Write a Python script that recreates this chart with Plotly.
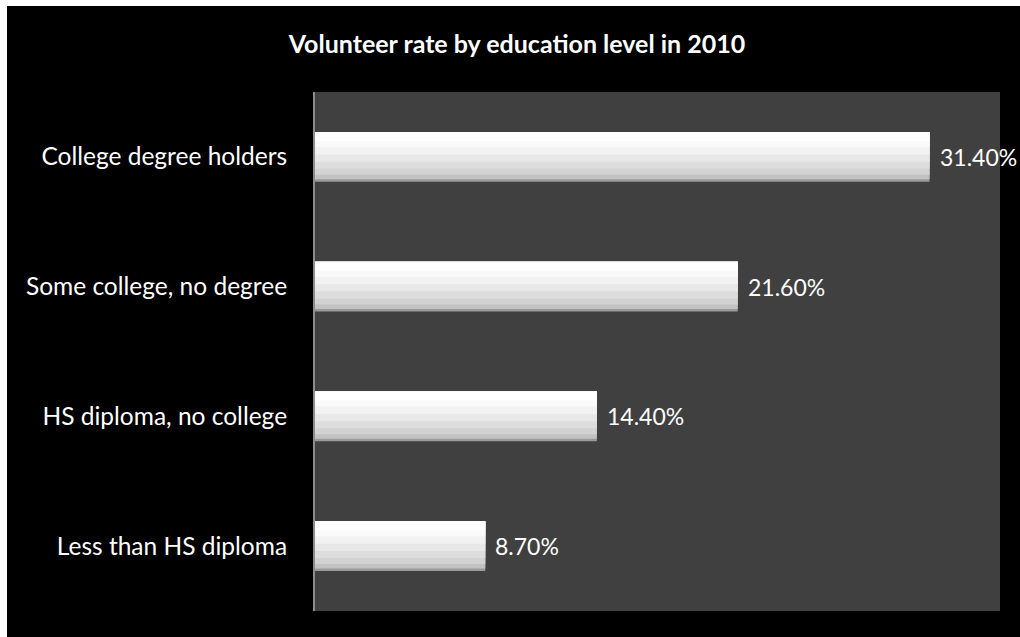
import plotly.graph_objects as go

categories = ["Less than HS diploma", "HS diploma, no college",
              "Some college, no degree", "College degree holders"]
rates = [8.7, 14.4, 21.6, 31.4]
value_labels = ["8.70%", "14.40%", "21.60%", "31.40%"]
title_text = "Volunteer rate by education level in 2010"

FONT = "Lato, 'Liberation Sans', Arial, sans-serif"
BW = 0.385  # bar thickness in category units

# (start fraction from bar bottom, colour) — vertical shading of each bar
SHADES = [(0.00, "#9a9a9a"), (0.05, "#c2c2c2"), (0.14, "#d2d2d2"),
          (0.26, "#dddddd"), (0.40, "#e8e8e8"), (0.55, "#f2f2f2"),
          (0.70, "#fafafa"), (0.82, "#ffffff")]

fig = go.Figure()
for frac, col in SHADES:
    fig.add_trace(go.Bar(
        y=categories, x=rates, orientation="h",
        width=BW * (1 - frac), offset=-BW / 2 + BW * frac,
        marker=dict(color=col, line=dict(width=0)),
        hoverinfo="skip", showlegend=False))

for cat, v, lab in zip(categories, rates, value_labels):
    fig.add_annotation(x=v, y=cat, text=lab, showarrow=False,
                       xanchor="left", yanchor="middle", xshift=8,
                       font=dict(family=FONT, size=23, color="white"))

fig.update_layout(
    width=1020, height=637,
    barmode="overlay",
    paper_bgcolor="black",
    plot_bgcolor="#404040",
    margin=dict(l=315, r=20, t=92, b=26),
    title=dict(text="<b>" + title_text + "</b>", x=(517 - 315) / 685, xref="paper",
               xanchor="center", y=1 - 44 / 637, yanchor="middle",
               font=dict(family=FONT, size=25, color="white")),
    xaxis=dict(range=[0, 35], showgrid=False, zeroline=False,
               showticklabels=False, ticks="", showline=False, fixedrange=True),
    yaxis=dict(categoryorder="array", categoryarray=categories,
               showgrid=False, zeroline=False, ticks="",
               showline=True, linecolor="#8c8c8c", linewidth=2,
               ticklabelstandoff=21, fixedrange=True,
               tickfont=dict(family=FONT, size=24.5, color="white")),
    shapes=[
        dict(type="rect", xref="paper", yref="paper",
             x0=-315 / 685, x1=-308 / 685, y0=-26 / 519, y1=(519 + 92) / 519,
             fillcolor="white", line=dict(width=0), layer="below"),
        dict(type="rect", xref="paper", yref="paper",
             x0=-315 / 685, x1=(685 + 20) / 685, y0=(519 + 86) / 519, y1=(519 + 92) / 519,
             fillcolor="white", line=dict(width=0), layer="below"),
    ],
)

fig.write_html("out.html", config={"displayModeBar": False},
               post_script="document.body.style.margin='0';document.body.style.padding='0';")
